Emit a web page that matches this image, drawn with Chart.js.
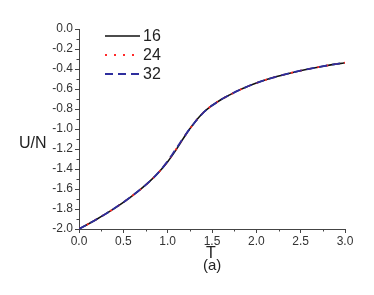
<!DOCTYPE html>
<html><head><meta charset="utf-8">
<script src="https://cdn.jsdelivr.net/npm/chart.js@4/dist/chart.umd.min.js"></script>
<style>
html,body{margin:0;padding:0;background:#fff;}
#wrap{position:relative;width:374px;height:295px;}
canvas{position:absolute;left:0;top:0;}
.lbl{position:absolute;font-family:"Liberation Sans",Arial,sans-serif;color:#222;white-space:nowrap;line-height:1;}
</style>
</head><body>
<div id="wrap">
<canvas id="c" width="374" height="295"></canvas>
<div class="lbl" style="left:19px;top:135px;font-size:16px;">U/N</div>
<div class="lbl" style="left:206px;top:245px;font-size:16px;">T</div>
<div class="lbl" style="left:203px;top:257px;font-size:15px;">(a)</div>
</div>
<script>
const T    = [0.0,0.1,0.2,0.3,0.4,0.5,0.6,0.7,0.8,0.9,1.0,1.05,1.1,1.15,1.2,1.25,1.3,1.35,1.4,1.45,1.5,1.6,1.7,1.8,1.9,2.0,2.2,2.4,2.6,2.8,3.0];
const U16  = [-2.000,-1.952,-1.902,-1.849,-1.793,-1.733,-1.668,-1.599,-1.522,-1.433,-1.327,-1.266,-1.201,-1.131,-1.062,-0.998,-0.940,-0.886,-0.838,-0.799,-0.765,-0.707,-0.659,-0.614,-0.575,-0.540,-0.483,-0.437,-0.398,-0.365,-0.337];
const U24  = [-2.000,-1.952,-1.902,-1.849,-1.793,-1.733,-1.668,-1.599,-1.522,-1.432,-1.324,-1.262,-1.196,-1.128,-1.061,-0.998,-0.940,-0.886,-0.838,-0.799,-0.765,-0.707,-0.659,-0.614,-0.575,-0.540,-0.483,-0.437,-0.398,-0.365,-0.337];
const U32  = [-2.000,-1.952,-1.902,-1.849,-1.793,-1.733,-1.668,-1.599,-1.522,-1.431,-1.321,-1.257,-1.190,-1.124,-1.059,-0.998,-0.940,-0.886,-0.838,-0.799,-0.765,-0.707,-0.659,-0.614,-0.575,-0.540,-0.483,-0.437,-0.398,-0.365,-0.337];
const seriesNames = ['16','24','32'];
const xTicks = [0,0.5,1.0,1.5,2.0,2.5,3.0];
const yTicks = [0,-0.2,-0.4,-0.6,-0.8,-1.0,-1.2,-1.4,-1.6,-1.8,-2.0];

const pts = arr => T.map((t,i)=>({x:t,y:arr[i]}));
const styles = [
  {color:'#111111', dash:[], w:1.6},
  {color:'#ff2a2a', dash:[2,7], w:1.8},
  {color:'#2e2e9e', dash:[8,5], w:1.8}
];

const minorTicks = {
  id:'minorTicks',
  afterDraw(chart){
    const ctx=chart.ctx, xs=chart.scales.x, ys=chart.scales.y, a=chart.chartArea;
    ctx.save();
    ctx.strokeStyle='#444'; ctx.lineWidth=1;
    ctx.beginPath();
    for(let v=0.25; v<3; v+=0.5){ const px=Math.round(xs.getPixelForValue(v))+0.5; ctx.moveTo(px,a.bottom); ctx.lineTo(px,a.bottom+2.5); }
    for(let v=-1.9; v<0; v+=0.2){ const py=Math.round(ys.getPixelForValue(v))+0.5; ctx.moveTo(a.left,py); ctx.lineTo(a.left-2.5,py); }
    ctx.stroke();
    // legend
    ctx.font='16px "Liberation Sans", Arial, sans-serif';
    ctx.textBaseline='middle';
    const ly=[36,55,74];
    styles.forEach((s,i)=>{
      ctx.strokeStyle=s.color; ctx.lineWidth=s.w; ctx.setLineDash(s.dash);
      ctx.beginPath(); ctx.moveTo(105,ly[i]); ctx.lineTo(140,ly[i]); ctx.stroke();
      ctx.setLineDash([]);
      ctx.fillStyle='#222'; ctx.fillText(seriesNames[i],143,ly[i]+1);
    });
    ctx.restore();
  }
};

new Chart(document.getElementById('c'),{
  type:'line',
  data:{datasets:[U16,U24,U32].map((arr,i)=>({
    label:seriesNames[i], data:pts(arr), borderColor:styles[i].color, borderWidth:styles[i].w,
    borderDash:styles[i].dash, pointRadius:0, fill:false, cubicInterpolationMode:'monotone', order:2-i
  }))},
  options:{
    responsive:false, animation:false, devicePixelRatio:1,
    layout:{padding:{left:0,right:29,top:29,bottom:0}},
    plugins:{legend:{display:false},tooltip:{enabled:false}},
    scales:{
      x:{type:'linear',min:0,max:3,
        afterBuildTicks:s=>{s.ticks=xTicks.map(v=>({value:v}));},
        afterFit:s=>{s.height=66;},
        border:{color:'#444',width:1},
        grid:{display:true,drawOnChartArea:false,tickLength:4,color:'#444'},
        ticks:{padding:1,color:'#333',font:{family:'"Liberation Sans", Arial, sans-serif',size:12},callback:v=>v.toFixed(1),maxRotation:0}
      },
      y:{type:'linear',min:-2,max:0,
        afterBuildTicks:s=>{s.ticks=yTicks.map(v=>({value:v}));},
        afterFit:s=>{s.width=79;},
        border:{color:'#444',width:1},
        grid:{display:true,drawOnChartArea:false,tickLength:4,color:'#444'},
        ticks:{padding:2,color:'#333',font:{family:'"Liberation Sans", Arial, sans-serif',size:12},callback:v=>v.toFixed(1)}
      }
    }
  },
  plugins:[minorTicks]
});
</script>
</body></html>
